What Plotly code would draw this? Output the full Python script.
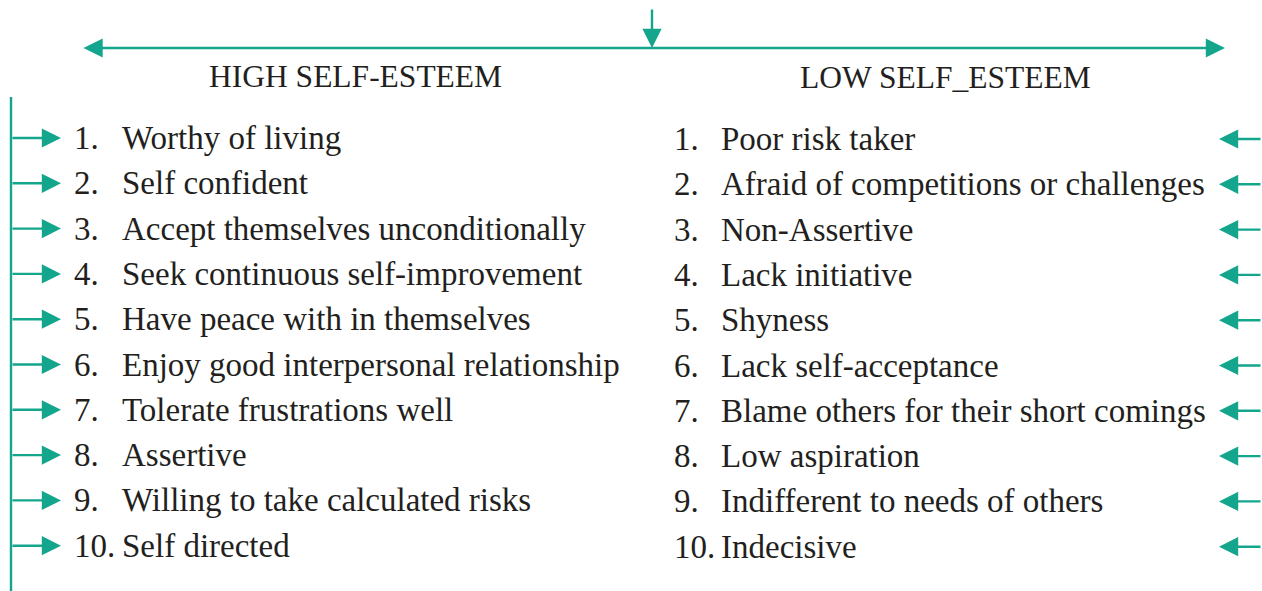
import plotly.graph_objects as go

high_title = "HIGH SELF-ESTEEM"
low_title = "LOW SELF_ESTEEM"
high_items = [
    "Worthy of living",
    "Self confident",
    "Accept themselves unconditionally",
    "Seek continuous self-improvement",
    "Have peace with in themselves",
    "Enjoy good interpersonal relationship",
    "Tolerate frustrations well",
    "Assertive",
    "Willing to take calculated risks",
    "Self directed",
]
low_items = [
    "Poor risk taker",
    "Afraid of competitions or challenges",
    "Non-Assertive",
    "Lack initiative",
    "Shyness",
    "Lack self-acceptance",
    "Blame others for their short comings",
    "Low aspiration",
    "Indifferent to needs of others",
    "Indecisive",
]

W, H = 1262, 591
TEAL = "#14a58d"
INK = "#231f20"
FONT = "Liberation Serif"
FS = 33

fig = go.Figure()
ann = []

def arrow(x0, y0, x1, y1, both=False):
    ann.append(dict(x=x1, y=y1, ax=x0, ay=y0, xref="x", yref="y", axref="x", ayref="y",
                    showarrow=True, arrowhead=2, arrowsize=1.6, arrowwidth=2.4,
                    arrowcolor=TEAL, text="", arrowside="end+start" if both else "end",
                    startarrowhead=2, startarrowsize=1.6, standoff=0, startstandoff=0))

# top connectors
arrow(652, 8, 652, 48)
arrow(82, 48, 1225, 48, both=True)

# left spine
fig.add_shape(type="line", x0=11, x1=11, y0=97, y1=591, line=dict(color=TEAL, width=2.4))

def txt(x, y, s, size=FS):
    ann.append(dict(x=x, y=y, xref="x", yref="y", text=s, showarrow=False,
                    xanchor="left", yanchor="middle",
                    font=dict(family=FONT, size=size, color=INK)))

ann.append(dict(x=355, y=76, xref="x", yref="y", text=high_title, showarrow=False,
                xanchor="center", yanchor="middle", font=dict(family=FONT, size=31.5, color=INK)))
ann.append(dict(x=945, y=77, xref="x", yref="y", text=low_title, showarrow=False,
                xanchor="center", yanchor="middle", font=dict(family=FONT, size=31.5, color=INK)))

y0, dy = 138, 45.3
for i, s in enumerate(high_items):
    y = y0 + i * dy
    arrow(11, y, 61, y)
    txt(72, y, f"{i+1}.")
    txt(120, y, s)
for i, s in enumerate(low_items):
    y = y0 + 1 + i * dy
    arrow(1262, y, 1219, y)
    txt(672, y, f"{i+1}.")
    txt(719, y, s)

fig.update_layout(
    width=W, height=H, margin=dict(l=0, r=0, t=0, b=0),
    paper_bgcolor="white", plot_bgcolor="white",
    xaxis=dict(range=[0, W], visible=False, fixedrange=True),
    yaxis=dict(range=[H, 0], visible=False, fixedrange=True),
    annotations=ann, showlegend=False,
)
fig.write_html("out.html", config={"displayModeBar": False},
               post_script="document.body.style.margin='0';document.body.style.overflow='hidden';")
